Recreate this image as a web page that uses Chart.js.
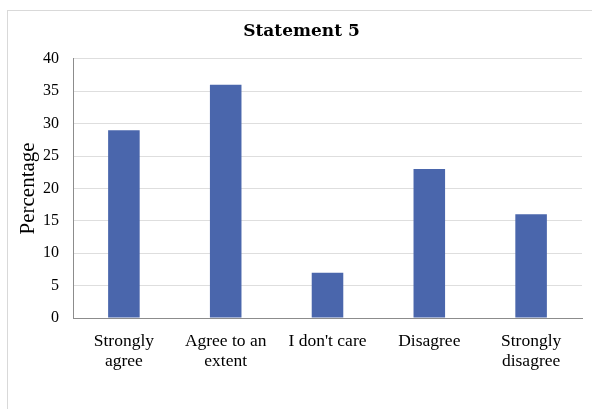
<!DOCTYPE html>
<html>
<head>
<meta charset="utf-8">
<script src="https://cdn.jsdelivr.net/npm/chart.js@4/dist/chart.umd.min.js"></script>
<style>
  html, body { margin: 0; padding: 0; background: #fff; }
  #wrap { position: relative; width: 592px; height: 409px; overflow: hidden; }
  #frame { position: absolute; left: 7px; top: 10px; width: 600px; height: 420px; border: 1px solid #d9d9d9; box-sizing: border-box; }
  canvas { position: absolute; left: 0; top: 0; }
</style>
</head>
<body>
<div id="wrap">
  <div id="frame"></div>
  <canvas id="chart" width="592" height="409"></canvas>
</div>
<script>
/* categories and values */
const categories = [
    ["Strongly", "agree"],
    ["Agree to an", "extent"],
    ["I don't care"],
    ["Disagree"],
    ["Strongly", "disagree"]
];
const percentages = [29, 36, 7, 23, 16];
const yTicks = [0, 5, 10, 15, 20, 25, 30, 35, 40];

const serif = "'Liberation Serif', 'Times New Roman', serif";

new Chart(document.getElementById("chart"), {
    type: "bar",
    data: {
        labels: categories,
        datasets: [{
            data: percentages,
            backgroundColor: "#4a66ac",
            categoryPercentage: 1,
            barPercentage: 0.31
        }]
    },
    options: {
        responsive: false,
        animation: false,
        // left padding keeps the title centred on the framed area
        layout: { padding: { left: 21, right: 10, top: 0, bottom: 0 } },
        plugins: {
            legend: { display: false },
            tooltip: { enabled: false },
            title: {
                display: true,
                text: "Statement 5",
                color: "#000",
                font: { family: "'DejaVu Serif', serif", size: 17, weight: "bold" },
                padding: { top: 21, bottom: 17.5 }
            }
        },
        scales: {
            x: {
                grid: { display: false },
                border: { color: "#8c8c8c", width: 1 },
                ticks: {
                    color: "#000",
                    font: { family: serif, size: 17.5, lineHeight: 1.15 },
                    padding: 5,
                    maxRotation: 0,
                    autoSkip: false
                },
                afterFit(scale) { scale.height = 91; }
            },
            y: {
                min: 0,
                max: 40,
                afterBuildTicks(scale) { scale.ticks = yTicks.map(v => ({ value: v })); },
                grid: { color: "#dedede", drawTicks: false },
                border: { color: "#8c8c8c", width: 1 },
                ticks: {
                    color: "#000",
                    font: { family: serif, size: 16 },
                    padding: 14
                },
                title: {
                    display: true,
                    text: "Percentage",
                    color: "#000",
                    font: { family: serif, size: 21 },
                    padding: { top: -5, bottom: 0 }
                },
                afterFit(scale) { scale.width = 52; }
            }
        }
    }
});
</script>
</body>
</html>
